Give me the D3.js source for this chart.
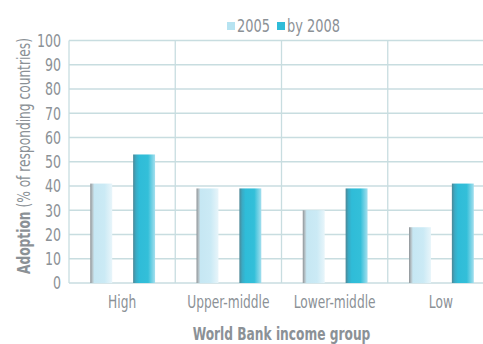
<!DOCTYPE html>
<html><head><meta charset="utf-8">
<script src="https://cdn.jsdelivr.net/npm/d3@7"></script>
<style>
html,body{margin:0;padding:0;background:#fff;}
svg{display:block;}
text{font-family:"DejaVu Sans Condensed","Liberation Sans Narrow",sans-serif;fill:#8b9196;}
</style></head>
<body>
<svg id="chart" width="483" height="344"></svg>
<script>
const categories = ["High", "Upper-middle", "Lower-middle", "Low"];
const seriesNames = ["2005", "by 2008"];
const values2005 = [41, 39, 30, 23];
const values2008 = [53, 39, 39, 41];
const yTicks = [0, 10, 20, 30, 40, 50, 60, 70, 80, 90, 100];

const svg = d3.select("#chart");
const W = 483, H = 344;
const m = {left: 69, top: 40.5, right: -11, bottom: 61};
const plotW = W - m.left - m.right, plotH = H - m.top - m.bottom;
const SX = 0.8; // horizontal condensing of text

function txt(sel, x, y) {
  return sel.attr("transform", `translate(${x},${y}) scale(${SX},1)`);
}

const defs = svg.append("defs");
function grad(id, stops) {
  const g = defs.append("linearGradient").attr("id", id).attr("x1", "0%").attr("x2", "100%").attr("y1", "0%").attr("y2", "0%");
  stops.forEach(s => g.append("stop").attr("offset", s[0]).attr("stop-color", s[1]));
}
grad("g2005", [["0%", "#8e9397"], ["10%", "#b7c4c9"], ["18%", "#c6e7f3"], ["65%", "#cbeaf5"], ["100%", "#e8f5fa"]]);
grad("g2008", [["0%", "#4c8796"], ["13%", "#3aaac4"], ["28%", "#2fbcd8"], ["68%", "#33bfd9"], ["100%", "#a4dfee"]]);

const x0 = d3.scaleBand().domain(categories).range([m.left, m.left + plotW]).paddingInner(0).paddingOuter(0);
const bw = x0.bandwidth();
const x1 = d3.scaleBand().domain(seriesNames).range([0.2 * bw, 0.81 * bw]).paddingInner(0.488).paddingOuter(0);
const y = d3.scaleLinear().domain([0, 100]).range([m.top + plotH, m.top]);

const grid = svg.append("g");
grid.selectAll("line.h").data(yTicks).enter().append("line")
  .attr("x1", m.left).attr("x2", m.left + plotW)
  .attr("y1", d => y(d)).attr("y2", d => y(d))
  .attr("stroke", "#c8dde0").attr("stroke-width", 1.3);
const bounds = categories.map(c => x0(c)).concat([m.left + plotW]);
grid.selectAll("line.v").data(bounds).enter().append("line")
  .attr("x1", d => d).attr("x2", d => d)
  .attr("y1", m.top).attr("y2", y(0))
  .attr("stroke", "#c8dde0").attr("stroke-width", 1.3);

const data = categories.map((c, i) => ({cat: c, vals: [values2005[i], values2008[i]]}));
const grp = svg.append("g").selectAll("g").data(data).enter().append("g")
  .attr("transform", d => `translate(${x0(d.cat)},0)`);
grp.selectAll("rect").data(d => d.vals.map((v, j) => ({s: seriesNames[j], v, j}))).enter().append("rect")
  .attr("x", d => x1(d.s)).attr("width", x1.bandwidth())
  .attr("y", d => y(d.v)).attr("height", d => y(0) - y(d.v))
  .attr("fill", d => d.j === 0 ? "url(#g2005)" : "url(#g2008)");

// y tick labels
svg.append("g").selectAll("text").data(yTicks).enter().append("text")
  .each(function(d) { txt(d3.select(this), 61, y(d)); })
  .attr("dy", "0.36em").attr("text-anchor", "end").style("font-size", "17.5px").text(d => d);

// x labels
svg.append("g").selectAll("text").data(categories).enter().append("text")
  .each(function(d) { txt(d3.select(this), x0(d) + bw / 2, 308); })
  .attr("text-anchor", "middle").style("font-size", "17px").text(d => d);

// x title
txt(svg.append("text"), m.left + plotW / 2, 340)
  .attr("text-anchor", "middle").style("font-size", "17px").style("font-weight", "bold")
  .text("World Bank income group");

// y title
const yt = svg.append("text").attr("transform", `translate(30,156) rotate(-90) scale(${SX},1)`)
  .attr("text-anchor", "middle").style("font-size", "17px");
yt.append("tspan").style("font-weight", "bold").text("Adoption");
yt.append("tspan").text(" (% of responding countries)");

// legend
const legColors = ["#b6e3f1", "#2fbcd8"];
const legX = [227, 277];
const leg = svg.append("g");
seriesNames.forEach((s, i) => {
  leg.append("rect").attr("x", legX[i]).attr("y", 22).attr("width", 8).attr("height", 8).attr("fill", legColors[i]);
  txt(leg.append("text"), legX[i] + 10, 26).attr("dy", "0.36em").style("font-size", "18px").text(s);
});
</script>
</body></html>
